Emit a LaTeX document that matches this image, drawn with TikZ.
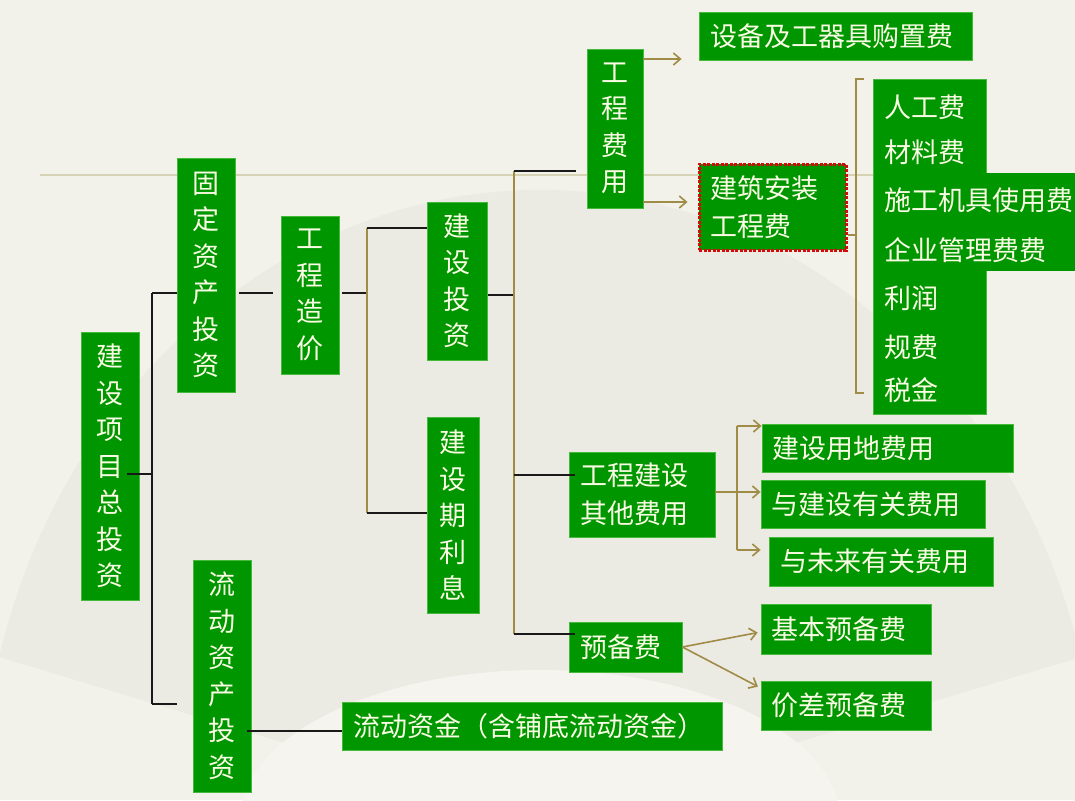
\documentclass[tikz,border=0pt]{standalone}
\usepackage{fontspec}
\setmainfont{Noto Sans CJK SC}
\usetikzlibrary{arrows.meta}
\definecolor{bg}{HTML}{F2F1EA}
\definecolor{fanc}{HTML}{EBEAE3}
\definecolor{hub}{HTML}{F5F4EF}
\definecolor{gfill}{RGB}{0,150,0}
\definecolor{gedge}{RGB}{70,185,60}
\definecolor{txt}{RGB}{250,252,228}
\definecolor{olive}{RGB}{160,140,70}
\definecolor{blk}{RGB}{25,25,25}
\definecolor{redd}{RGB}{215,10,10}
\definecolor{faint}{RGB}{214,210,180}
\begin{document}
\begin{tikzpicture}[x=1pt,y=-1pt,
  gbox/.style={fill=gfill, draw=gedge, line width=0.8pt, text=txt, font=\fontsize{27}{36.5}\selectfont, inner sep=0pt},
  vbox/.style={gbox, align=center, text width=28pt},
  hbox/.style={gbox, align=left, inner xsep=11pt},
  ltext/.style={text=txt, font=\fontsize{27}{30}\selectfont, inner sep=0pt, anchor=west},
  blkline/.style={draw=blk, line width=1.6pt},
  olline/.style={draw=olive, line width=1.6pt},
  olarrow/.style={olline, -{Straight Barb[length=7pt,width=12pt]}},
]
% background
\useasboundingbox (0,0) rectangle (1075,800);
\fill[bg] (0,0) rectangle (1075,800);
\fill[fanc] (540,820) ++(-165:560 and 630) arc[start angle=-165, end angle=-15, x radius=560, y radius=630] -- (540,820) -- cycle;
\fill[hub] (540,820) ellipse[x radius=300, y radius=150];
\draw[faint, line width=2.5pt] (40,175) -- (1075,175);

% nodes
\node[vbox, minimum width=58pt, minimum height=268pt] (root) at (110,466) {建\\设\\项\\目\\总\\投\\资};
\node[vbox, minimum width=58pt, minimum height=234pt] (gd) at (206,275) {固\\定\\资\\产\\投\\资};
\node[vbox, minimum width=58pt, minimum height=232pt] (ld) at (222,676) {流\\动\\资\\产\\投\\资};
\node[vbox, minimum width=58pt, minimum height=158pt] (gczj) at (310,295) {工\\程\\造\\价};
\node[vbox, minimum width=60pt, minimum height=158pt] (jstz) at (457,281) {建\\设\\投\\资};
\node[vbox, minimum width=52pt, minimum height=196pt] (jsqlx) at (453,515) {建\\设\\期\\利\\息};
\node[vbox, minimum width=56pt, minimum height=159pt] (gcfy) at (615,128.5) {工\\程\\费\\用};
\node[hbox, text width=251pt, minimum height=48pt] (sb) at (835.5,36) {设备及工器具购置费};
\node[hbox, text width=125pt, minimum height=86pt, draw=redd, line width=3pt, dash pattern=on 3pt off 1.5pt, font=\fontsize{27}{37.5}\selectfont] (jaf) at (772.5,207) {建筑安装\\工程费};
\node[gbox, minimum width=113pt, minimum height=335pt] (list) at (929.5,246.5) {};
\fill[gfill] (873.5,173) rectangle (1075,271);
\node[ltext] (t1) at (884,107) {人工费};
\node[ltext] (t2) at (884,152) {材料费};
\node[ltext] (t3) at (884,200) {施工机具使用费};
\node[ltext] (t4) at (884,250) {企业管理费费};
\node[ltext] (t5) at (884,298) {利润};
\node[ltext] (t6) at (884,347) {规费};
\node[ltext] (t7) at (884,390) {税金};
\node[hbox, text width=124pt, minimum height=85pt, font=\fontsize{27}{38.5}\selectfont] (qt) at (642,494.5) {工程建设\\其他费用};
\node[hbox, text width=91pt, minimum height=50pt] (ybf) at (625.5,647) {预备费};
\node[hbox, text width=231pt, inner xsep=10pt, minimum height=48pt] (yd) at (887.5,448) {建设用地费用};
\node[hbox, text width=204pt, inner xsep=10pt, minimum height=48pt] (yj) at (873,504) {与建设有关费用};
\node[hbox, text width=202pt, minimum height=49pt] (yw) at (881,561.5) {与未来有关费用};
\node[hbox, text width=150pt, inner xsep=10pt, minimum height=50pt] (jb) at (846,629) {基本预备费};
\node[hbox, text width=150pt, inner xsep=10pt, minimum height=49pt] (jc) at (846,705.5) {价差预备费};
\node[hbox, text width=358pt, minimum height=48pt] (ldzj) at (532,726) {流动资金（含铺底流动资金）};

% junction coordinates
\coordinate (j1) at (152,474);
\coordinate (j1t) at (152,293);
\coordinate (j1b) at (152,704);
\coordinate (j2) at (367,293);
\coordinate (j2t) at (367,228);
\coordinate (j2b) at (367,513);
\coordinate (j3) at (514,295);
\coordinate (j3t) at (514,171);
\coordinate (j3m) at (514,475);
\coordinate (j3b) at (514,634);
\coordinate (k) at (300,731);
\coordinate (a1) at (660,59);
\coordinate (a2) at (660,202);
\coordinate (b1) at (856,235);
\coordinate (bt) at (856,79);
\coordinate (bb) at (856,393);
\coordinate (c1) at (737,492);
\coordinate (ct) at (737,426);
\coordinate (cb) at (737,550);
\coordinate (d1) at (700,632);
\coordinate (d2) at (700,688);

% black connectors
\draw[blkline, shorten <=-12pt] (root.east |- j1) -- (j1);
\draw[blkline] (j1t) -- (j1b);
\draw[blkline] (j1t) -- (gd.west |- j1t);
\draw[blkline, shorten >=16pt] (j1b) -- (ld.west |- j1b);
\draw[blkline, shorten <=4pt, shorten >=8pt] (gd.east |- j1t) -- (gczj.west |- j1t);
\draw[blkline, shorten <=3pt] (gczj.east |- j2) -- (j2);
\draw[olline] (j2t) -- (j2b);
\draw[blkline] (j2t) -- (jstz.west |- j2t);
\draw[blkline] (j2b) -- (jsqlx.west |- j2b);
\draw[blkline, shorten <=1pt] (jstz.east |- j3) -- (j3);
\draw[olline] (j3t) -- (j3b);
\draw[blkline, shorten >=11pt] (j3t) -- (gcfy.west |- j3t);
\draw[blkline, shorten >=-6pt] (j3m) -- (qt.west |- j3m);
\draw[blkline, shorten >=-6pt] (j3b) -- (ybf.west |- j3b);
\draw[blkline, shorten <=-4pt] (ld.east |- k) -- (ldzj.west |- k);

% olive connectors
\draw[olarrow, shorten >=17pt] (gcfy.east |- a1) -- (sb.west |- a1);
\draw[olarrow, shorten >=10pt] (gcfy.east |- a2) -- (jaf.west |- a2);
\draw[olline] (jaf.east |- b1) -- (b1);
\draw[olline] ([xshift=8pt]bt) -- (bt) -- (bb) -- ([xshift=8pt]bb);
\draw[olline] (qt.east |- c1) -- (c1);
\draw[olline] (ct) -- (cb);
\draw[olarrow] (ct) -- (yd.west |- ct);
\draw[olarrow] (c1) -- (yj.west |- c1);
\draw[olarrow, shorten >=8pt] (cb) -- (yw.west |- cb);
\draw[olarrow, shorten >=3pt] (ybf.east) -- (jb.west |- d1);
\draw[olarrow, shorten >=3pt] (ybf.east) -- (jc.west |- d2);
\end{tikzpicture}
\end{document}
